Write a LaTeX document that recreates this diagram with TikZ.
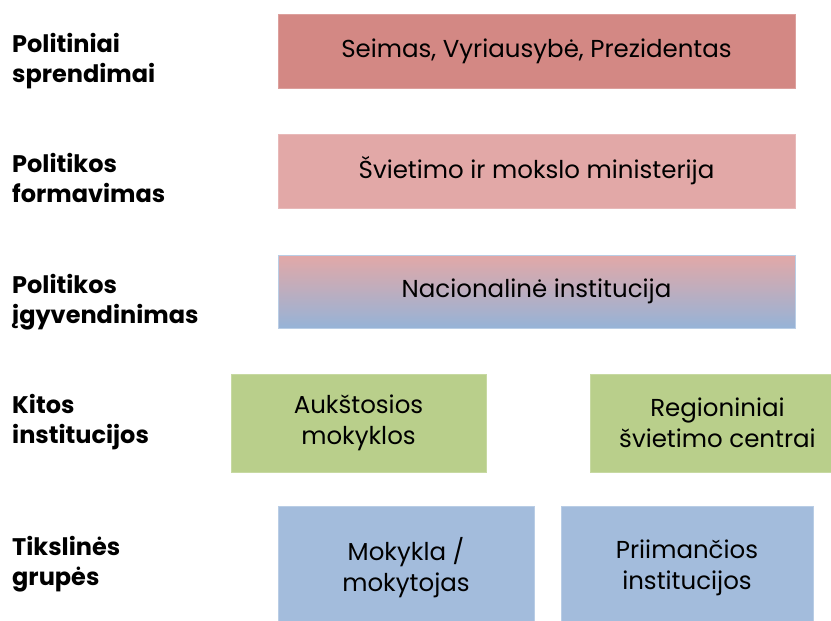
\documentclass[tikz,border=0pt]{standalone}
\usepackage{fontspec}
\setmainfont{Poppins}
\definecolor{redA}{HTML}{D38884}
\definecolor{redB}{HTML}{E2A8A7}
\definecolor{blueB}{HTML}{96B3D7}
\definecolor{greenA}{HTML}{B9CF8B}
\definecolor{blueA}{HTML}{A3BCDC}
\definecolor{edgeBlue}{HTML}{B9CDE5}
\begin{document}
\begin{tikzpicture}[x=1pt,y=-1pt,
  box/.style={rectangle, inner sep=0pt, align=center, line width=0.8pt,
    font=\fontsize{24.5}{31}\selectfont, text=black},
  lab/.style={anchor=base west, inner sep=0pt, align=left,
    font=\fontsize{24}{29.5}\selectfont\bfseries}]
\useasboundingbox (0,0) rectangle (831,621);
\clip (0,0) rectangle (831,621);
% boxes
\node[box, fill=redA, draw=redA!80!white, minimum width=517pt, minimum height=74pt] (b1) at (536.5,51) {Seimas, Vyriausybė, Prezidentas};
\node[box, fill=redB, draw=redB!80!white, minimum width=517pt, minimum height=74pt] (b2) at (536.5,171) {Švietimo ir mokslo ministerija};
\node[box, top color=redB, bottom color=blueB, draw=edgeBlue, minimum width=517pt, minimum height=73pt] (b3) at (536.5,291.5) {Nacionalinė institucija};
\node[box, fill=greenA, draw=greenA!80!white, minimum width=255pt, minimum height=98pt] (g1) at (358.5,423) {Aukštosios\\mokyklos};
\node[box, fill=greenA, draw=greenA!80!white, minimum width=255pt, minimum height=98pt] (g2) at (717.5,423) {Regioniniai\\švietimo centrai};
\node[box, fill=blueA, draw=edgeBlue, minimum width=256pt, minimum height=124pt] (p1) at (406,568) {Mokykla /\\mokytojas};
\node[box, fill=blueA, draw=edgeBlue, minimum width=252pt, minimum height=124pt] (p2) at (687,568) {Priimančios\\institucijos};
% labels (anchored at the baseline of their last line)
\node[lab] (l1) at (12,82) {Politiniai\\sprendimai};
\node[lab] (l2) at (12,202) {Politikos\\formavimas};
\node[lab] (l3) at (12,323) {Politikos\\įgyvendinimas};
\node[lab] (l4) at (12,443) {Kitos\\institucijos};
\node[lab] (l5) at (12,585) {Tikslinės\\grupės};
\end{tikzpicture}
\end{document}
